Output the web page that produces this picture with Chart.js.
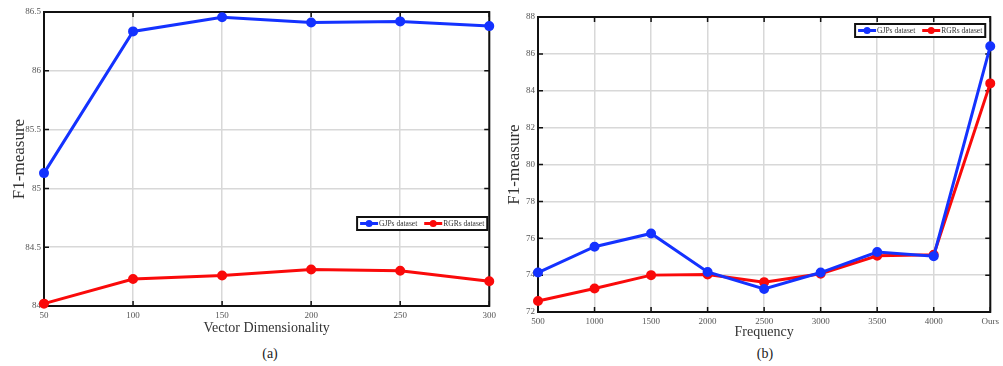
<!DOCTYPE html>
<html>
<head>
<meta charset="utf-8">
<script src="https://cdn.jsdelivr.net/npm/chart.js@4"></script>
<style>
body { margin: 0; background: #fff; width: 1003px; height: 366px; position: relative; overflow: hidden; }
.wrap { position: absolute; top: 0; height: 340px; }
.cap { position: absolute; font: 14px "Liberation Serif", serif; color: #222; transform: translateX(-50%); }
</style>
</head>
<body>
<div class="wrap" style="left:0;width:500px"><canvas id="chartA"></canvas></div>
<div class="wrap" style="left:500px;width:503px"><canvas id="chartB"></canvas></div>
<div class="cap" style="left:270px;top:346px">(a)</div>
<div class="cap" style="left:765px;top:346px">(b)</div>
<script>
// (a) vector dimensionality
const dimLabels = ['50', '100', '150', '200', '250', '300'];
const dimGJPs = [85.13, 86.335, 86.455, 86.41, 86.42, 86.38];
const dimRGRs = [84.02, 84.23, 84.26, 84.31, 84.30, 84.21];
const dimTicks = [84, 84.5, 85, 85.5, 86, 86.5];

// (b) frequency
const freqLabels = ['500', '1000', '1500', '2000', '2500', '3000', '3500', '4000', 'Ours'];
const freqGJPs = [74.14, 75.54, 76.26, 74.17, 73.25, 74.14, 75.25, 75.03, 86.41];
const freqRGRs = [72.6, 73.27, 74.0, 74.03, 73.62, 74.07, 75.05, 75.1, 84.4];
const freqTicks = [72, 74, 76, 78, 80, 82, 84, 86, 88];

const BLUE = 'rgb(20, 50, 255)';
const RED = 'rgb(250, 10, 10)';
const SERIF = '"Liberation Serif", "Times New Roman", serif';

// MATLAB style box with inward ticks, plus legend drawn inside the axes
const framePlugin = {
    id: 'frame',
    beforeDatasetsDraw(chart) {
        const { ctx, chartArea: a, scales: { x, y } } = chart;
        ctx.save();
        ctx.strokeStyle = '#111';
        ctx.lineWidth = 1.5;
        ctx.beginPath();
        x.ticks.forEach((t, i) => {
            const px = x.getPixelForTick(i);
            ctx.moveTo(px, a.bottom); ctx.lineTo(px, a.bottom - 5);
            ctx.moveTo(px, a.top); ctx.lineTo(px, a.top + 5);
        });
        y.ticks.forEach((t, i) => {
            const py = y.getPixelForTick(i);
            ctx.moveTo(a.left, py); ctx.lineTo(a.left + 5, py);
            ctx.moveTo(a.right, py); ctx.lineTo(a.right - 5, py);
        });
        ctx.stroke();
        ctx.lineWidth = 2;
        ctx.strokeRect(a.left, a.top, a.right - a.left, a.bottom - a.top);
        ctx.restore();
    },
    afterDatasetsDraw(chart, args, opts) {
        const { ctx, chartArea: a } = chart;
        ctx.save();
        ctx.font = '7.5px ' + SERIF;
        const seg = 18, pad = 3, gap = 7;
        const items = chart.data.datasets.map(ds => ({
            label: ds.label, color: ds.borderColor, w: ctx.measureText(ds.label).width
        }));
        let total = pad * 2 + items.reduce((s, it) => s + seg + 1 + it.w, 0) + gap * (items.length - 1);
        const h = 13;
        const bx = a.right - opts.right - total;
        const by = a.top + opts.top;
        ctx.fillStyle = '#fff';
        ctx.fillRect(bx, by, total, h);
        ctx.strokeStyle = '#111';
        ctx.lineWidth = 2;
        ctx.strokeRect(bx, by, total, h);
        let cx = bx + pad;
        const cy = by + h / 2;
        items.forEach(it => {
            ctx.strokeStyle = it.color;
            ctx.fillStyle = it.color;
            ctx.lineWidth = 3;
            ctx.beginPath();
            ctx.moveTo(cx, cy); ctx.lineTo(cx + seg, cy);
            ctx.stroke();
            ctx.beginPath();
            ctx.arc(cx + seg / 2, cy, 3.5, 0, Math.PI * 2);
            ctx.fill();
            ctx.fillStyle = '#333';
            ctx.textBaseline = 'middle';
            ctx.fillText(it.label, cx + seg + 1, cy + 0.5);
            cx += seg + 1 + it.w + gap;
        });
        ctx.restore();
    }
};

function makeChart(id, labels, gjps, rgrs, ticks, xTitle, box) {
    const series = (label, data, color) => ({
        label: label,
        data: data,
        borderColor: color,
        backgroundColor: color,
        borderWidth: 3,
        pointRadius: 3.5,
        pointHoverRadius: 3.5,
        tension: 0,
        clip: false
    });
    return new Chart(document.getElementById(id), {
        type: 'line',
        data: {
            labels: labels,
            datasets: [
                series('GJPs dataset', gjps, BLUE),
                series('RGRs dataset', rgrs, RED)
            ]
        },
        options: {
            responsive: true,
            maintainAspectRatio: false,
            animation: false,
            layout: { padding: { top: box.top, right: box.right, left: 0, bottom: 0 } },
            plugins: {
                legend: { display: false },
                tooltip: { enabled: false },
                frame: { right: box.legRight, top: box.legTop }
            },
            scales: {
                x: {
                    offset: false,
                    grid: { color: '#d8d8d8', lineWidth: 1.5, drawTicks: false },
                    border: { display: false },
                    ticks: { padding: 4, color: '#555', font: { family: SERIF, size: 9 }, maxRotation: 0 },
                    title: { display: true, text: xTitle, color: '#333', font: { family: SERIF, size: 14 }, padding: { top: 0, bottom: box.xtb } },
                    afterFit: s => { s.height = box.xh; }
                },
                y: {
                    min: ticks[0],
                    max: ticks[ticks.length - 1],
                    afterBuildTicks: s => { s.ticks = ticks.map(v => ({ value: v })); },
                    grid: { color: '#d8d8d8', lineWidth: 1.5, drawTicks: false },
                    border: { display: false },
                    ticks: { padding: 3, color: '#555', font: { family: SERIF, size: 9 }, callback: v => String(v) },
                    title: { display: true, text: 'F1-measure', color: '#333', font: { family: SERIF, size: 17 }, padding: { top: box.ytp, bottom: 0 } },
                    afterFit: s => { s.width = box.yw; }
                }
            }
        },
        plugins: [framePlugin]
    });
}

makeChart('chartA', dimLabels, dimGJPs, dimRGRs, dimTicks, 'Vector Dimensionality',
    { top: 12, right: 7, xh: 34, yw: 44, ytp: 9, xtb: 3, legRight: 2, legTop: 205 });
makeChart('chartB', freqLabels, freqGJPs, freqRGRs, freqTicks, 'Frequency',
    { top: 17, right: 11, xh: 28, yw: 38, ytp: 4, xtb: -1, legRight: 5, legTop: 7 });
</script>
</body>
</html>
